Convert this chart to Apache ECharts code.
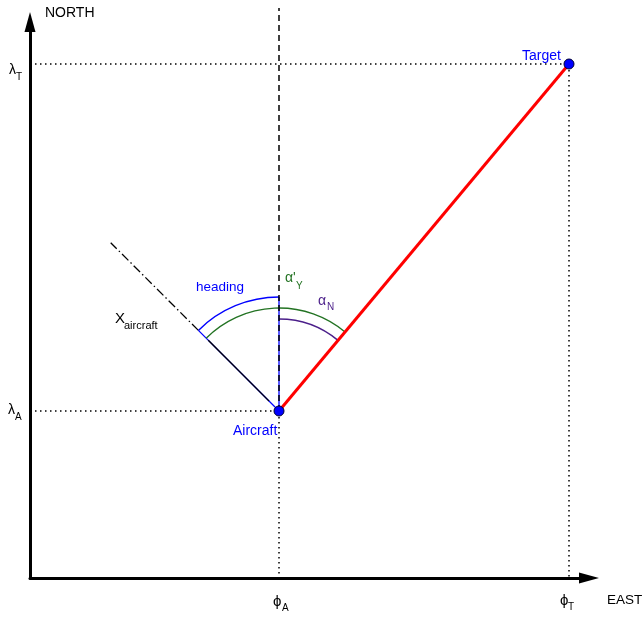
<!DOCTYPE html>
<html><head><meta charset="utf-8">
<script src="https://cdn.jsdelivr.net/npm/echarts@6/dist/echarts.min.js"></script>
<style>html,body{margin:0;padding:0;background:#fff}#c{width:644px;height:619px}</style>
</head><body><div id="c"></div>
<script>
// ---------- data (plot units: east, north) ----------
const axisNames = ['EAST', 'NORTH'];
const aircraft = [249, 167];          // [phi_A, lambda_A]
const target = [539, 514];            // [phi_T, lambda_T]
const headingDeg = 315;               // aircraft heading, clockwise from north
const xTickLabels = [['ϕ', 'A'], ['ϕ', 'T']];   // at phi_A, phi_T
const yTickLabels = [['λ', 'A'], ['λ', 'T']];   // at lambda_A, lambda_T
const pointNames = ['Aircraft', 'Target'];
const angleNames = [['heading', ''], ["α'", 'Y'], ['α', 'N']];
const bodyAxisName = ['X', 'aircraft'];

// ---------- layout / style ----------
const X_MAX = 559, Y_MAX = 556;
const FONT = "'Liberation Sans', Arial, Helvetica, sans-serif";
const BLUE = '#0000ff', GREEN = '#237323', PURPLE = '#4b1f8a', RED = '#ff0000';
const R_HEADING = 114, R_ALPHAY = 103, R_ALPHAN = 92, EXT_LEN = 238, NORTH_TOP = 570;

const bearingDeg = Math.atan2(target[0] - aircraft[0], target[1] - aircraft[1]) * 180 / Math.PI;
const toRad = d => (d - 90) * Math.PI / 180;   // compass -> canvas angle
function polar(c, r, deg) { const a = toRad(deg); return [c[0] + r * Math.cos(a), c[1] + r * Math.sin(a)]; }
function seg(p, q, stroke, lw, dash) {
  return { type: 'line', shape: { x1: p[0], y1: p[1], x2: q[0], y2: q[1] },
    style: { stroke: stroke, lineWidth: lw, lineDash: dash || null, fill: 'none' } };
}
function arc(c, r, a0, a1, stroke) {
  return { type: 'arc', shape: { cx: c[0], cy: c[1], r: r, startAngle: toRad(a0), endAngle: toRad(a1), clockwise: true },
    style: { stroke: stroke, lineWidth: 1.4, fill: 'none' } };
}
function txt(x, y, s, size, color) {
  return { type: 'text', x: x, y: y,
    style: { text: s, fill: color, fontSize: size, fontFamily: FONT, align: 'left', verticalAlign: 'middle' } };
}
function label(anchorPx, parts, color, mainSize, subSize, off) {
  // off: [dxMain, dyMain, dxSub, dySub]
  const out = [txt(anchorPx[0] + off[0], anchorPx[1] + off[1], parts[0], mainSize, color)];
  if (parts[1]) out.push(txt(anchorPx[0] + off[2], anchorPx[1] + off[3], parts[1], subSize, color));
  return out;
}

function renderConstruction(params, api) {
  const c = api.coord(aircraft);
  const u = api.size([1, 0])[0];
  const ch = [];
  ch.push(seg(c, polar(c, R_HEADING * u, 0), BLUE, 1.3));
  ch.push(seg(c, polar(c, R_HEADING * u, headingDeg), BLUE, 1.3));
  ch.push(seg(polar(c, 14 * u, headingDeg), polar(c, 100 * u, headingDeg), '#000', 1.3));
  ch.push(seg(polar(c, R_HEADING * u, headingDeg), polar(c, EXT_LEN * u, headingDeg), '#000', 1.3, [9, 3, 1.5, 3]));
  ch.push(arc(c, R_HEADING * u, headingDeg, 360, BLUE));
  ch.push(arc(c, R_ALPHAY * u, headingDeg, 360 + bearingDeg, GREEN));
  ch.push(arc(c, R_ALPHAN * u, 0, bearingDeg, PURPLE));
  return { type: 'group', children: ch };
}

function renderLabels(params, api) {
  const a = api.coord(aircraft), t = api.coord(target);
  const xa = api.coord([aircraft[0], 0]), xt = api.coord([target[0], 0]);
  const ya = api.coord([0, aircraft[1]]), yt = api.coord([0, target[1]]);
  const xEnd = api.coord([X_MAX, 0]), yEnd = api.coord([0, Y_MAX]);
  let ch = [];
  ch = ch.concat(label(a, [pointNames[0]], BLUE, 14, 10, [-46, 20]));
  ch = ch.concat(label(t, [pointNames[1]], BLUE, 14, 10, [-47, -8]));
  ch = ch.concat(label(a, angleNames[0], BLUE, 13.5, 10, [-83, -124]));
  ch = ch.concat(label(a, angleNames[1], GREEN, 14, 10, [6, -133, 17, -125]));
  ch = ch.concat(label(a, angleNames[2], PURPLE, 14, 10, [39, -110, 48, -104]));
  ch = ch.concat(label(a, bodyAxisName, '#000', 15, 11, [-164, -92, -155, -85]));
  ch = ch.concat(label(xa, xTickLabels[0], '#000', 15, 10, [-6, 24, 3, 30]));
  ch = ch.concat(label(xt, xTickLabels[1], '#000', 15, 10, [-9, 23, -1, 29]));
  ch = ch.concat(label(ya, yTickLabels[0], '#000', 14, 10, [-22, -1, -15, 6]));
  ch = ch.concat(label(yt, yTickLabels[1], '#000', 14, 10, [-21, 6, -14, 13]));
  ch = ch.concat(label(xEnd, [axisNames[0]], '#000', 13.5, 10, [18, 22]));
  ch = ch.concat(label(yEnd, [axisNames[1]], '#000', 14, 10, [15, -9]));
  return { type: 'group', children: ch };
}

const axisCommon = {
  type: 'value', splitLine: { show: false }, axisTick: { show: false }, axisLabel: { show: false },
  axisLine: { show: true, onZero: false, symbol: ['none', 'triangle'], symbolSize: [11, 20],
    lineStyle: { color: '#000', width: 3 } }
};
const dotted = { color: '#000', width: 1.5, type: [1.5, 3.5] };

const chart = echarts.init(document.getElementById('c'));
chart.setOption({
  animation: false,
  backgroundColor: '#fff',
  grid: { left: 30, right: 55, top: 22, bottom: 41 },
  xAxis: Object.assign({}, axisCommon, { min: 0, max: X_MAX }),
  yAxis: Object.assign({}, axisCommon, { min: 0, max: Y_MAX }),
  series: [
    { type: 'line', z: 2, clip: false, symbol: 'none', silent: true,
      data: [[0, target[1]], target, [target[0], 0]], lineStyle: dotted },
    { type: 'line', z: 2, clip: false, symbol: 'none', silent: true,
      data: [[0, aircraft[1]], aircraft, [aircraft[0], 0]], lineStyle: dotted },
    { type: 'custom', z: 3, clip: false, silent: true, data: [[0, 0]], renderItem: renderConstruction },
    { type: 'line', z: 4, clip: false, symbol: 'none', silent: true,
      data: [aircraft, [aircraft[0], NORTH_TOP]],
      lineStyle: { color: '#000', width: 1.5, type: [6, 4] } },
    { type: 'line', z: 5, clip: false, symbol: 'none', silent: true,
      data: [aircraft, target], lineStyle: { color: RED, width: 3 } },
    { type: 'scatter', z: 6, silent: true, data: [aircraft, target], symbolSize: 10,
      itemStyle: { color: BLUE, borderColor: '#000033', borderWidth: 1, opacity: 1 } },
    { type: 'custom', z: 7, clip: false, silent: true, data: [[0, 0]], renderItem: renderLabels }
  ]
});
</script>
</body></html>
